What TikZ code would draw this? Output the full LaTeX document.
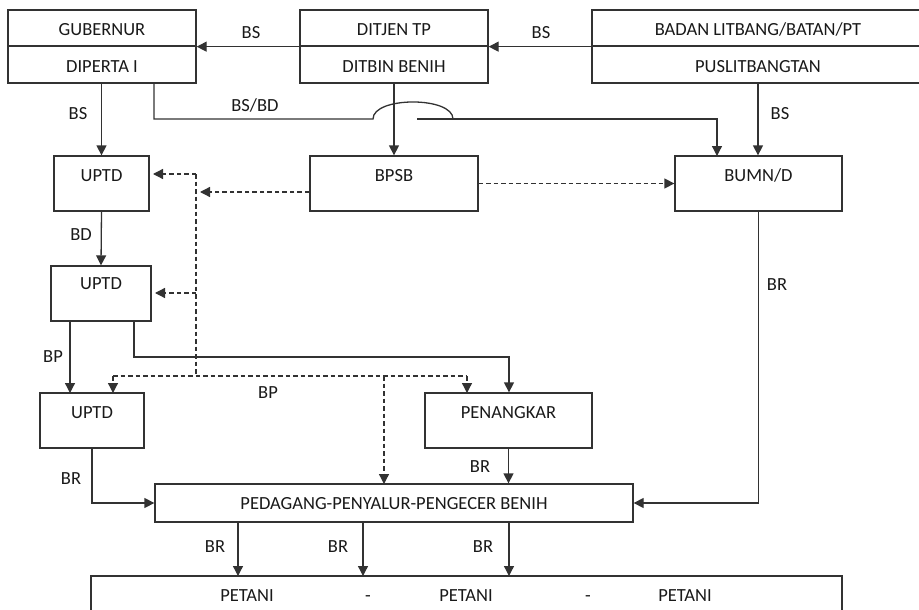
\documentclass[tikz,border=0pt]{standalone}
\usepackage{fontspec}
\setmainfont{Carlito}
\usetikzlibrary{arrows.meta,calc}
\definecolor{ln}{RGB}{50,50,50}
\definecolor{tx}{RGB}{25,25,25}
\begin{document}
\begin{tikzpicture}[x=1pt,y=-1pt,
  box/.style={draw=ln,line width=1.3pt,inner sep=0pt,minimum width=#1},
  txt/.style={inner sep=0pt,text=tx,font=\fontsize{18.5}{22}\selectfont,text height=11.9pt,text depth=0pt},
  con/.style={draw=ln,line width=1.3pt},
  arr/.style={con,-{Triangle[length=10pt,width=10pt]}},
  dsh/.style={con,dash pattern=on 4.5pt off 3pt},
  darr/.style={dsh,-{Triangle[length=10pt,width=10pt]}}]
\useasboundingbox (0,0) rectangle (919,610);
% top boxes (two halves each)
\node[box=188pt,minimum height=36pt] (gubA) at (102,28) {};
\node[box=188pt,minimum height=37pt] (gubB) at (102,64.5) {};
\node[box=188pt,minimum height=36pt] (ditA) at (394,28) {};
\node[box=188pt,minimum height=37pt] (ditB) at (394,64.5) {};
\node[box=332pt,minimum height=36pt] (badA) at (758,28) {};
\node[box=332pt,minimum height=37pt] (badB) at (758,64.5) {};
\node[txt] (tgubA) at (102,30) {GUBERNUR};
\node[txt] (tgubB) at (102,67) {DIPERTA I};
\node[txt] (tditA) at (394,30) {DITJEN TP};
\node[txt] (tditB) at (394,67) {DITBIN BENIH};
\node[txt] (tbadA) at (758,30) {BADAN LITBANG/BATAN/PT};
\node[txt] (tbadB) at (758,67) {PUSLITBANGTAN};
% second row
\node[box=95pt,minimum height=55pt] (uptd1) at (101.5,183.5) {};
\node[box=168pt,minimum height=55pt] (bpsb) at (394,183.5) {};
\node[box=167pt,minimum height=55pt] (bumn) at (758.5,183.5) {};
\node[txt] (tuptd1) at (101.5,176) {UPTD};
\node[txt] (tbpsb) at (394,176) {BPSB};
\node[txt] (tbumn) at (758.5,176) {BUMN/D};
% third row
\node[box=100pt,minimum height=55pt] (uptd2) at (101,293.5) {};
\node[txt] (tuptd2) at (101,284) {UPTD};
% fourth row
\node[box=104pt,minimum height=55pt] (uptd3) at (92,420.5) {};
\node[box=167pt,minimum height=55pt] (pen) at (508.5,420.5) {};
\node[txt] (tuptd3) at (92,413) {UPTD};
\node[txt] (tpen) at (508.5,413) {PENANGKAR};
% pedagang
\node[box=478pt,minimum height=38pt] (ped) at (394,503) {};
\node[txt] (tped) at (394,504) {PEDAGANG-PENYALUR-PENGECER BENIH};
% petani
\node[box=751pt,minimum height=40pt] (pet) at (466.5,596) {};
\node[txt] (tp1) at (247,596) {PETANI};
\node[txt] (td1) at (368,596) {-};
\node[txt] (tp2) at (466,596) {PETANI};
\node[txt] (td2) at (588,596) {-};
\node[txt] (tp3) at (685,596) {PETANI};
% solid connectors
\draw[arr] (ditA.south west) -- (gubA.south east);
\draw[arr] (badA.south west) -- (ditA.south east);
\draw[arr] (uptd1.north |- gubB.south) -- (uptd1.north);
\coordinate (arcL) at (373,119);
\coordinate (arcR) at (453,119);
\coordinate (lnR) at (417,119);
\coordinate (bumnIn) at (717,156);
\draw[con] ([xshift=52pt]gubB.south) |- (arcL) .. controls (373,96.3) and (453,96.3) .. (arcR);
\draw[arr] (lnR) -| (bumnIn);
\draw[arr] (ditB.south) -- (bpsb.north);
\draw[arr] (badB.south) -- (badB.south |- bumn.north);
\draw[arr] (uptd1.south) -- (uptd2.north);
\draw[arr] (70,321) -- (70,393);
\draw[arr] (134,321) |- (509,357) -- (pen.north -| 509,0);
\draw[arr] (uptd3.south) |- (ped.west);
\draw[arr] (pen.south) -- (ped.north -| pen.south);
\draw[arr] (bumn.south) |- (ped.east);
\draw[arr] (238,522) -- (238,576);
\draw[arr] (363,522) -- (363,576);
\draw[arr] (509,522) -- (509,576);
% dashed connectors
\draw[darr] (bpsb.east) -- (bumn.west);
\draw[darr] ([yshift=-8.5pt]bpsb.west) -- (200,192);
\coordinate (dtop) at (196,174);
\coordinate (dmid) at (196,293);
\coordinate (dbot) at (196,376);
\draw[dsh] (dtop) -- (dbot);
\draw[darr] (dtop) -- (153,174);
\draw[darr] (dmid) -- (155,293);
\draw[dsh] (113,376) -- (467,376);
\draw[darr] (113,376) -- (113,393);
\draw[darr] (467,376) -- (467,393);
\draw[darr] (384,376) -- (384,484);
% labels
\node[txt] (l1) at (251,33) {BS};
\node[txt] (l2) at (541,33) {BS};
\node[txt] (l3) at (78,114) {BS};
\node[txt] (l4) at (255,106) {BS/BD};
\node[txt] (l5) at (780,114) {BS};
\node[txt] (l6) at (81,235) {BD};
\node[txt] (l7) at (777,285) {BR};
\node[txt] (l8) at (53,357) {BP};
\node[txt] (l9) at (268,393) {BP};
\node[txt] (l10) at (71,479) {BR};
\node[txt] (l11) at (480,467) {BR};
\node[txt] (l12) at (215,547) {BR};
\node[txt] (l13) at (338,547) {BR};
\node[txt] (l14) at (483,547) {BR};
\end{tikzpicture}
\end{document}
